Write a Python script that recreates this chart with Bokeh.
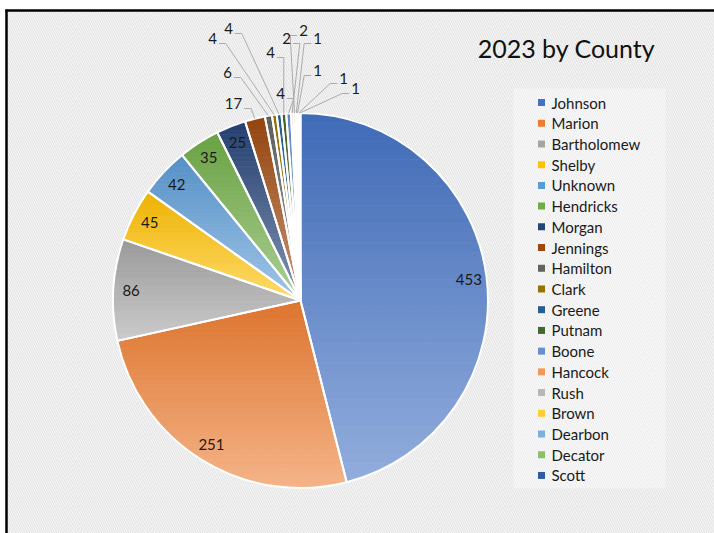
import math
import numpy as np
from bokeh.plotting import figure
from bokeh.models import Range1d
from bokeh.core.properties import value
from bokeh.embed import file_html
from bokeh.resources import INLINE

# ---------------- data ----------------
counties = ["Johnson", "Marion", "Bartholomew", "Shelby", "Unknown", "Hendricks",
            "Morgan", "Jennings", "Hamilton", "Clark", "Greene", "Putnam", "Boone",
            "Hancock", "Rush", "Brown", "Dearbon", "Decator", "Scott"]
counts = [453, 251, 86, 45, 42, 35, 25, 17, 6, 4, 4, 4, 4, 2, 2, 1, 1, 1, 1]
colors = ["#4472C4", "#ED7D31", "#A5A5A5", "#FFC000", "#5B9BD5", "#70AD47",
          "#264478", "#9E480E", "#636363", "#997300", "#255E91", "#43682B",
          "#698ED0", "#F1975A", "#B7B7B7", "#FFCD33", "#7CAFDD", "#8CC168", "#335AA1"]
title_text = "2023 by County"

# ---------------- layout ----------------
W, H = 714, 533
def px(x):   # page x -> data x
    return x
def py(y):   # page y -> data y
    return H - y

CX, CY = px(300), py(300)
R = 187.5
INSIDE_MIN = 25          # values >= this are labelled inside the slice
INSIDE_R = 0.905 * R
# outside label positions (offset from pie centre in px, x right / y up), small slices in order
outside_pos = [(-67, 197), (-73, 228), (-88, 262), (-72, 272), (-30, 248), (-20, 207),
               (-14, 262), (3, 270), (17, 262), (17, 230), (43, 222), (55, 212)]

FONT = "Lato"

p = figure(width=W, height=H, x_range=Range1d(0, W), y_range=Range1d(0, H),
           output_backend="svg", toolbar_location=None, min_border=0)
p.axis.visible = False
p.grid.visible = False
p.outline_line_color = None
p.background_fill_color = "white"
p.border_fill_color = "white"

# hatched chart background
p.quad(left=[px(6)], right=[W], bottom=[0], top=[py(10)], fill_color="white", line_color=None,
       hatch_pattern="\\", hatch_color="#DDDDDD", hatch_scale=4.5, hatch_weight=1.1)

# legend panel (slightly whiter)
p.quad(left=[px(513)], right=[px(665)], bottom=[py(488)], top=[py(88)],
       fill_color="white", fill_alpha=0.35, line_color=None)

# borders
p.segment(x0=[px(5)], y0=[py(10)], x1=[W], y1=[py(10)], line_color="black", line_width=2.5)
p.segment(x0=[px(6)], y0=[0], x1=[px(6)], y1=[py(9)], line_color="black", line_width=2.5)

# ---------------- pie ----------------
total = float(sum(counts))
cum = np.concatenate([[0], np.cumsum(counts)])
starts = [math.pi / 2 - 2 * math.pi * cum[i] / total for i in range(len(counts))]
ends = [math.pi / 2 - 2 * math.pi * cum[i + 1] / total for i in range(len(counts))]


def hex2rgb(h):
    h = h.lstrip("#")
    return [int(h[i:i + 2], 16) for i in (0, 2, 4)]


def rgb2hex(c):
    return "#%02x%02x%02x" % tuple(int(round(max(0, min(255, v)))) for v in c)


def mix(c1, c2, t):
    return [a + (b - a) * t for a, b in zip(c1, c2)]


def clip(poly, y0, keep_above):
    out = []
    n = len(poly)
    for i in range(n):
        P, Q = poly[i], poly[(i + 1) % n]
        inP = P[1] >= y0 if keep_above else P[1] <= y0
        inQ = Q[1] >= y0 if keep_above else Q[1] <= y0
        if inP:
            out.append(P)
        if inP != inQ:
            t = (y0 - P[1]) / (Q[1] - P[1])
            out.append((P[0] + t * (Q[0] - P[0]), y0))
    return out


band_xs, band_ys, band_cols = [], [], []
NB = 40
for i in range(len(counts)):
    a0, a1 = starts[i], ends[i]
    npts = max(3, int(abs(a0 - a1) / math.radians(1.0)) + 2)
    angs = np.linspace(a0, a1, npts)
    poly = [(CX, CY)] + [(CX + R * math.cos(a), CY + R * math.sin(a)) for a in angs]
    ys = [q[1] for q in poly]
    ytop, ybot = max(ys), min(ys)
    base = hex2rgb(colors[i])
    top_c = [v * 0.93 for v in base]
    bot_c = mix(base, [255, 255, 255], 0.42)
    for k in range(NB):
        yhi = ytop - (ytop - ybot) * k / NB
        ylo = ytop - (ytop - ybot) * (k + 1) / NB
        band = clip(clip(poly, ylo, True), yhi, False)
        if len(band) < 3:
            continue
        band_xs.append([q[0] for q in band])
        band_ys.append([q[1] for q in band])
        c = rgb2hex(mix(top_c, bot_c, (k + 0.5) / NB))
        band_cols.append(c)

p.patches(xs=band_xs, ys=band_ys, fill_color=band_cols, line_color=band_cols, line_width=0.8)

# slice outlines
p.wedge(x=[CX] * len(counts), y=[CY] * len(counts), radius=R, start_angle=starts,
        end_angle=ends, direction="clock", fill_color=None, line_color="white", line_width=2)

# ---------------- data labels ----------------
in_x, in_y, in_t = [], [], []
out_x, out_y, out_t = [], [], []
lead_xs, lead_ys = [], []
j = 0
for i, v in enumerate(counts):
    mid = (starts[i] + ends[i]) / 2
    if v >= INSIDE_MIN:
        in_x.append(CX + INSIDE_R * math.cos(mid))
        in_y.append(CY + INSIDE_R * math.sin(mid))
        in_t.append(str(v))
    else:
        dx, dy = outside_pos[j]
        j += 1
        lx, ly = CX + dx, CY + dy
        out_x.append(lx)
        out_y.append(ly)
        out_t.append(str(v))
        rx, ry = CX + R * math.cos(mid), CY + R * math.sin(mid)
        hw = 4.3 * len(str(v)) + 2
        if lx < rx:
            sx = lx + hw
            hx = sx + 7
        else:
            sx = lx - hw
            hx = sx - 7
        sy = ly - 5
        lead_xs.append([sx, hx, rx])
        lead_ys.append([sy, sy, ry])

p.multi_line(xs=lead_xs, ys=lead_ys, line_color="#ABABAB", line_width=1)
p.text(x=in_x, y=in_y, text=in_t, text_align="center", text_baseline="middle",
       text_font=value(FONT), text_font_size="15px", text_color="#1A1A1A")
p.text(x=out_x, y=out_y, text=out_t, text_align="center", text_baseline="middle",
       text_font=value(FONT), text_font_size="15px", text_color="#1A1A1A")

# ---------------- legend ----------------
LEG_X, LEG_Y0, LEG_DY = 541, 102, 20.72
lg_x = [px(LEG_X)] * len(counties)
lg_y = [py(LEG_Y0 + k * LEG_DY) for k in range(len(counties))]
p.rect(x=lg_x, y=lg_y, width=7, height=7, fill_color=colors, line_color=None)
p.text(x=[px(LEG_X + 10)] * len(counties), y=lg_y, text=counties, text_align="left",
       text_baseline="middle", text_font=value(FONT), text_font_size="15px",
       text_color="#1A1A1A")

# ---------------- title ----------------
p.text(x=[px(566)], y=[py(47)], text=[title_text], text_align="center", text_baseline="middle",
       text_font=value(FONT), text_font_size="25px", text_color="#111111")

open("out.html", "w").write(file_html(p, INLINE))
